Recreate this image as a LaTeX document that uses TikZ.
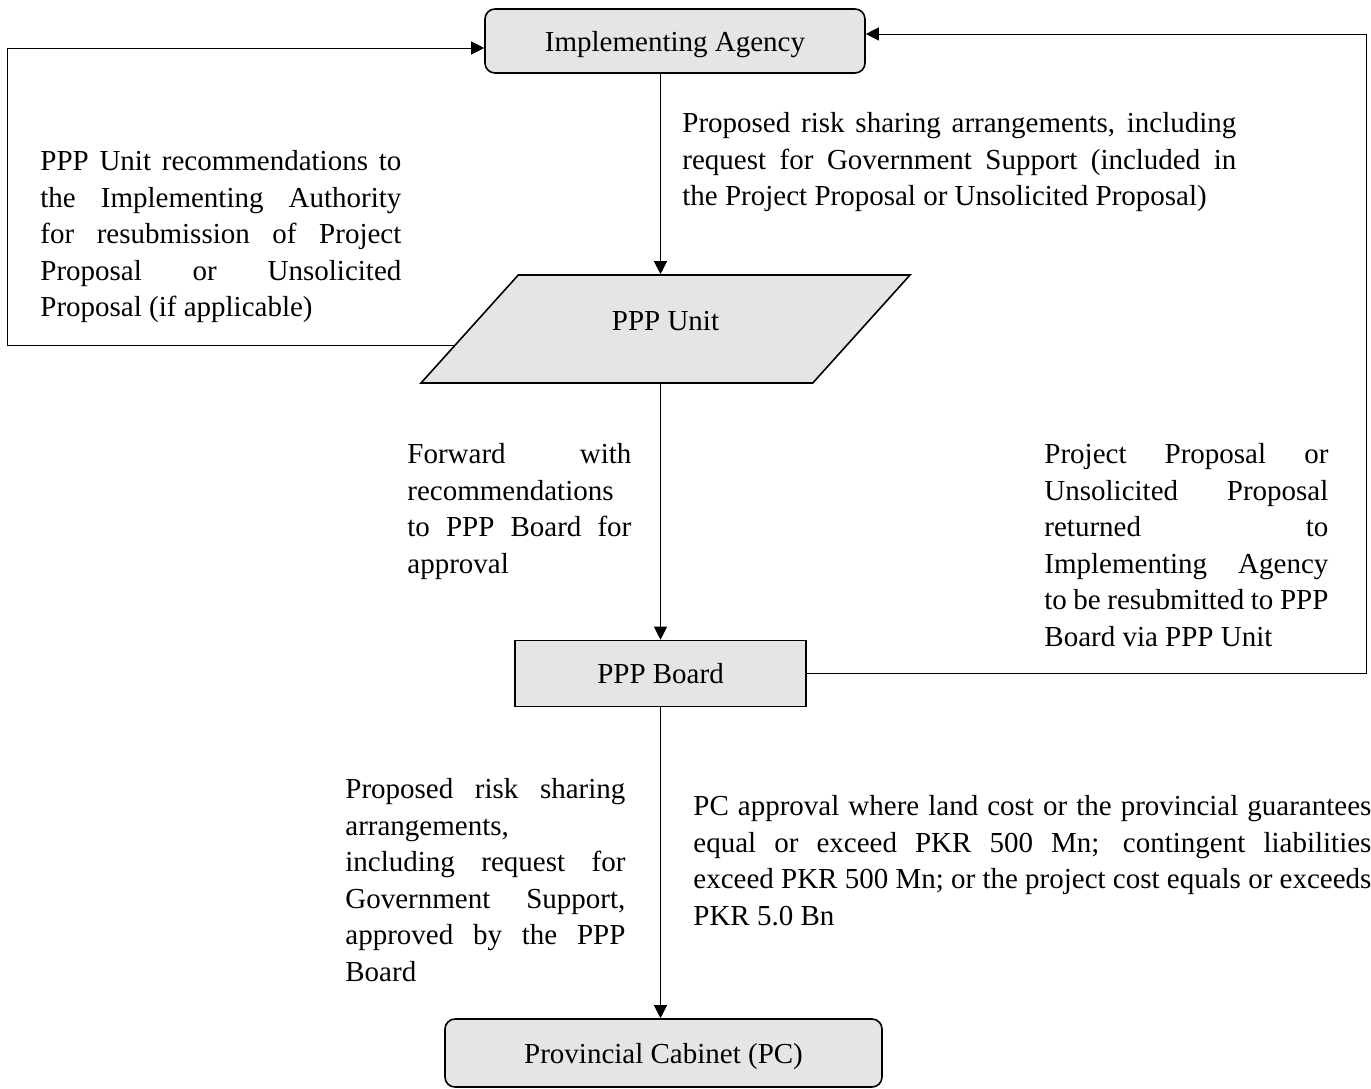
\documentclass[tikz,border=0pt]{standalone}
\usepackage{fontspec}
\setmainfont{Liberation Serif}
\usetikzlibrary{shapes.geometric, arrows.meta, calc}

\begin{document}
\begin{tikzpicture}[x=0.5pt,y=-0.5pt,
  font=\fontsize{14.5}{18.25}\selectfont,
  >={Triangle[length=6.5pt,width=6.5pt]},
  box/.style={draw, line width=0.8pt, fill=black!10, inner sep=0pt, text height=10pt, text depth=0pt},
  note/.style={anchor=north west, inner sep=0pt, align=justify},
  flow/.style={line width=0.5pt}]
  \useasboundingbox (0,0) rectangle (1371,1088);

  % boxes
  \node[box, rounded corners=5pt, minimum width=190pt, minimum height=32pt] (ia) at (675,41) {Implementing Agency};
  \node[box, trapezium, trapezium left angle=48, trapezium right angle=132,
        trapezium stretches body=true, minimum width=244.5pt, inner ysep=17.5pt, text depth=9pt] (pu) at (665.5,329) {PPP Unit};
  \node[box, minimum width=145.5pt, minimum height=33pt] (board) at (660.5,673.5) {PPP Board};
  \node[box, rounded corners=5pt, minimum width=218.5pt, minimum height=34pt] (pc) at (663.5,1053) {Provincial Cabinet (PC)};

  % free ends of the loops
  \coordinate (pl) at ($(pu.bottom left corner)!0.35!(pu.top left corner)$);
  \coordinate (lx) at (7,0);
  \coordinate (rx) at (1366,0);

  % connectors
  \draw[flow,->] (ia.south -| board.north) -- (pu.north -| board.north);
  \draw[flow,->] (pu.south -| board.north) -- (board.north);
  \draw[flow,->] (board.south) -- (pc.north -| board.south);
  \draw[flow,->] (pl) -- (pl -| lx) |- ([yshift=-3.5pt]ia.west);
  \draw[flow,->] (board.east) -- (board.east -| rx) |- ([yshift=3.5pt]ia.east);

  % labels
  \node[note, text width=180.5pt] (lnote) at (40,150) {PPP Unit recommendations to \linebreak the Implementing Authority \linebreak for resubmission of Project \linebreak Proposal or Unsolicited \linebreak Proposal (if applicable)};
  \node[note, text width=277pt] (tnote) at (682,112) {Proposed risk sharing arrangements, including \linebreak request for Government Support (included in \linebreak the Project Proposal or Unsolicited Proposal)};
  \node[note, text width=112pt] (fnote) at (407,443) {Forward with \linebreak recommendations\\ to PPP Board for \linebreak approval};
  \node[note, text width=142pt] (rnote) at (1044,443) {Project Proposal or \linebreak Unsolicited Proposal \linebreak returned to \linebreak Implementing Agency \linebreak to be resubmitted to PPP \linebreak Board via PPP Unit};
  \node[note, text width=140pt] (bnote) at (345,778) {Proposed risk sharing \linebreak arrangements,\\ including request for \linebreak Government Support, \linebreak approved by the PPP \linebreak Board};
  \node[note, text width=339pt] (cnote) at (693,795) {PC approval where land cost or the provincial guarantees \linebreak equal or exceed PKR 500 Mn; contingent liabilities \linebreak exceed PKR 500 Mn; or the project cost equals or exceeds \linebreak PKR 5.0 Bn};
\end{tikzpicture}
\end{document}
